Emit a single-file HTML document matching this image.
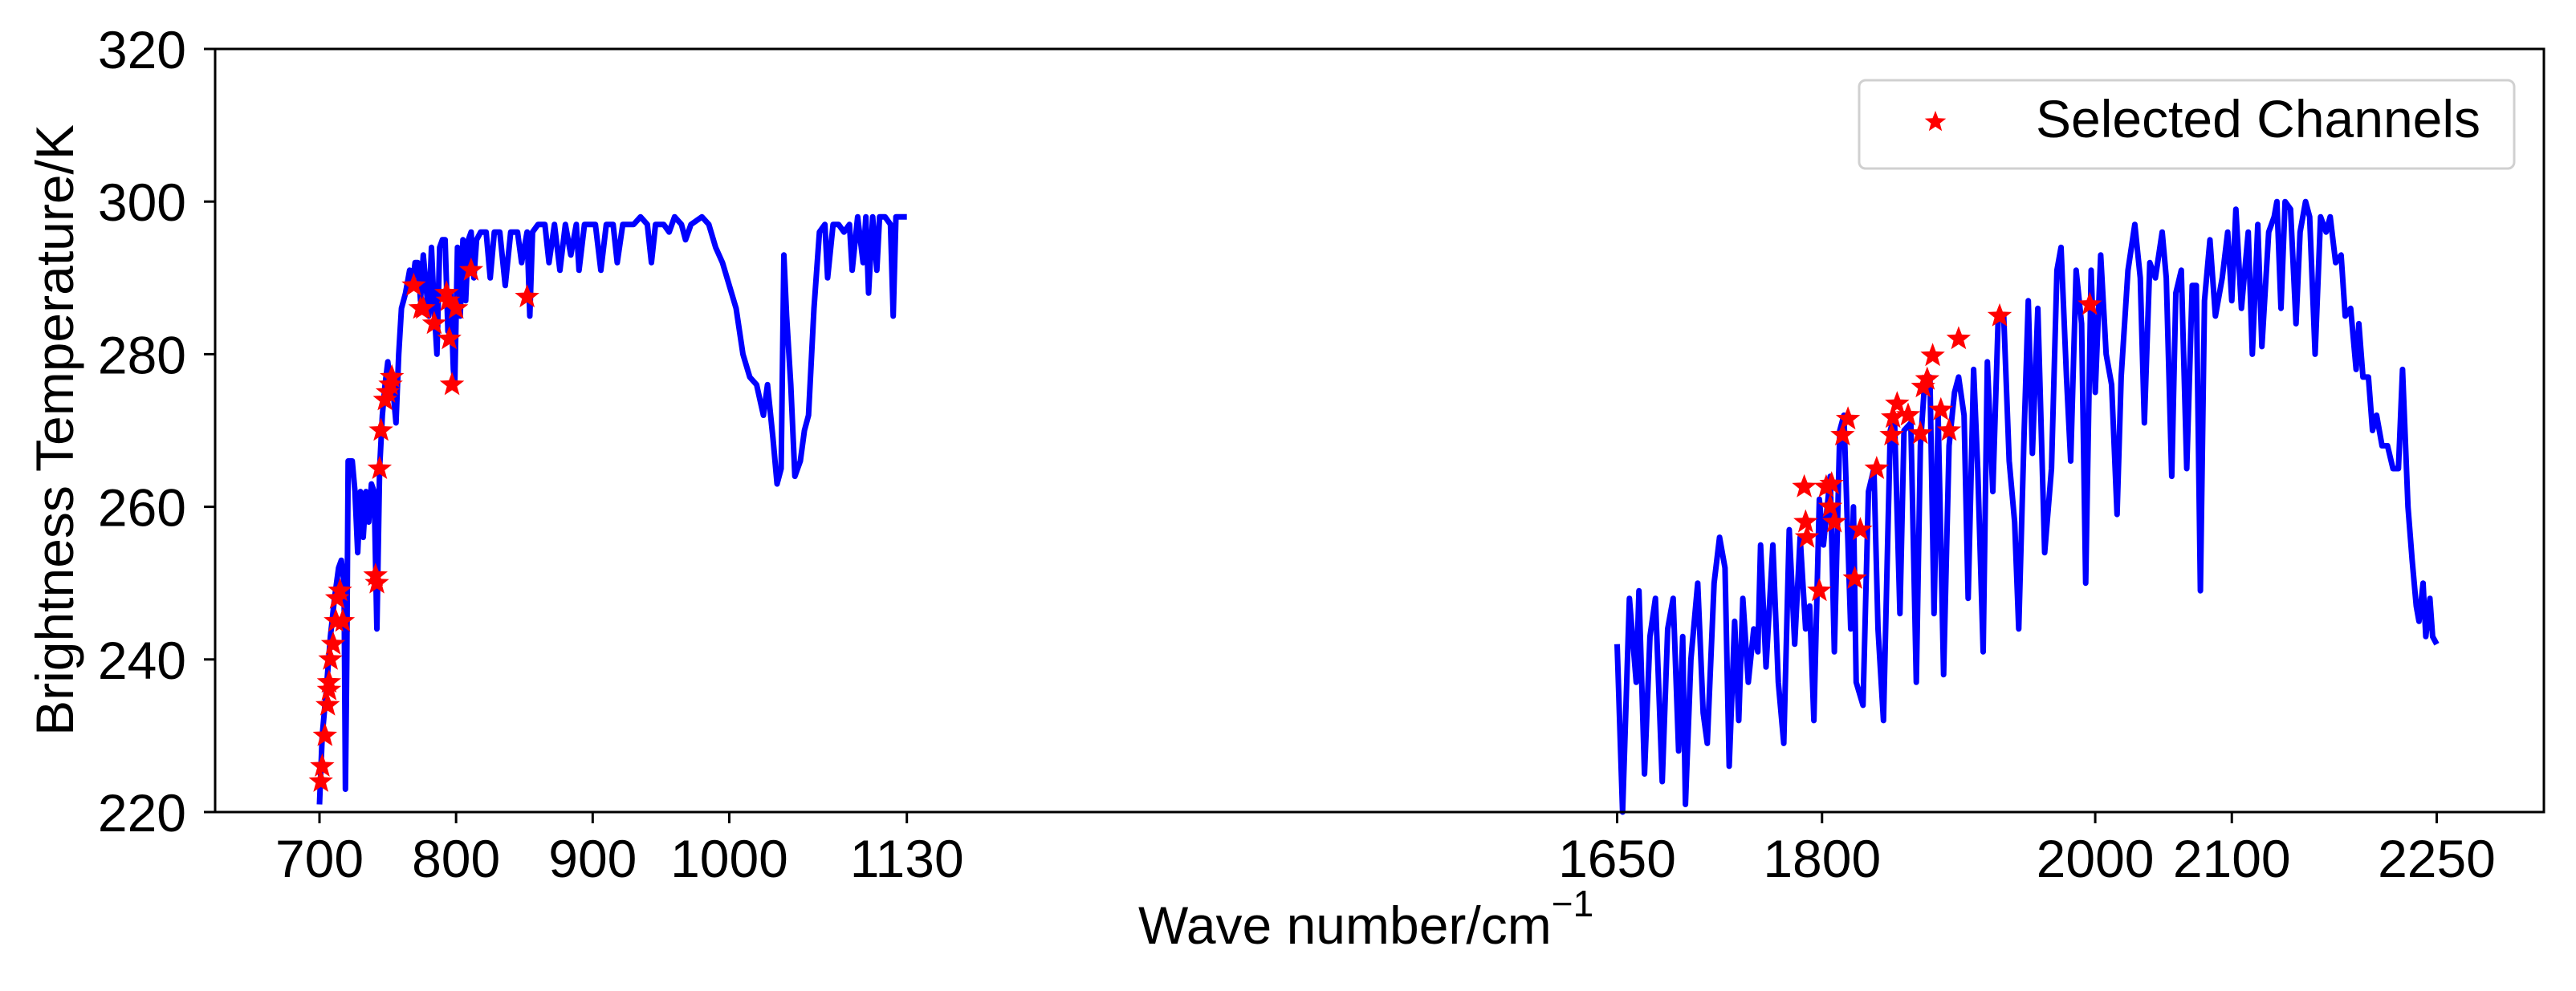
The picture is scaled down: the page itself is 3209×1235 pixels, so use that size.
<!DOCTYPE html>
<html><head><meta charset="utf-8"><style>
html,body{margin:0;padding:0;background:#fff;}
svg text{font-family:"Liberation Sans",Arial,sans-serif;fill:#000;}
</style></head><body>
<svg id="chart" width="3209" height="1230" viewBox="0 0 3209 1230" xmlns="http://www.w3.org/2000/svg">
<rect width="3209" height="1230" fill="#fff"/>
<g id="plot"></g>
<g id="axes"></g>
<g id="legend">
  <rect x="2316" y="100" width="816" height="110" rx="8" fill="#fff" stroke="#d0d0d0" stroke-width="3"/>
  <path id="legStar" fill="#ff0000"/>
  <text x="2536" y="171" font-size="66">Selected Channels</text>
</g>
</svg>
<script>
const band1W=[700,702,705,708,711,714,716,718,719,720,721,724,726,728,730,732,734,736,738,740,742,744,746,748,750,752,754,756,758,760,763,766,768,770,772,774,776,778,780,782,784,786,788,790,792,794,796,798,799,801,803,805,807,809,811,813,815,818,822,825,828,832,836,840,845,848,852,854,856,860,865,868,872,876,880,884,888,890,894,898,902,906,910,915,918,922,930,935,940,943,946,952,956,960,965,968,972,980,985,990,995,1000,1005,1010,1015,1020,1025,1028,1032,1035,1038,1040,1042,1045,1048,1052,1055,1058,1062,1066,1070,1072,1076,1080,1084,1088,1090,1094,1098,1100,1102,1105,1108,1110,1114,1118,1120,1122,1126,1130];
const band1T=[221,230,236,243,248,252,253,250,223,240,266,266,262,254,262,256,262,258,263,262,244,265,272,276,279,276,275,271,280,286,288,291,289,292,292,287,293,289,285,294,286,280,294,295,295,283,288,278,276,294,285,295,287,295,296,290,295,296,296,290,296,296,289,296,296,292,296,285,296,297,297,292,297,291,297,293,297,291,297,297,297,291,297,297,292,297,297,298,297,292,297,297,296,298,297,295,297,298,297,294,292,289,286,280,277,276,272,276,269,263,265,293,285,276,264,266,270,272,286,296,297,290,297,297,296,297,291,298,292,298,288,298,291,298,298,297,285,298,298,298];
const band2W=[1650,1654,1659,1664,1666,1670,1674,1678,1683,1687,1691,1695,1698,1700,1704,1709,1713,1716,1721,1725,1729,1732,1736,1739,1742,1746,1750,1753,1755,1759,1764,1768,1772,1776,1780,1784,1788,1791,1794,1798,1801,1806,1809,1813,1816,1821,1823,1825,1830,1834,1838,1841,1845,1850,1853,1857,1860,1865,1869,1872,1875,1879,1882,1885,1889,1893,1897,1900,1904,1907,1911,1914,1918,1921,1925,1929,1933,1937,1941,1944,1948,1951,1954,1958,1963,1968,1972,1975,1979,1982,1986,1990,1993,1997,2000,2004,2008,2012,2016,2019,2024,2029,2033,2036,2040,2044,2049,2052,2056,2059,2063,2067,2071,2074,2077,2080,2084,2088,2093,2097,2100,2103,2107,2112,2115,2119,2122,2127,2131,2133,2136,2139,2143,2147,2150,2154,2157,2161,2165,2169,2172,2176,2180,2183,2187,2191,2193,2196,2200,2203,2206,2210,2214,2218,2222,2225,2229,2232,2235,2237,2240,2242,2245,2247,2250];
const band2T=[242,220,248,237,249,225,243,248,224,244,248,228,243,221,240,250,233,229,250,256,252,226,245,232,248,237,244,241,255,239,255,237,229,257,242,256,244,247,232,261,255,264,241,270,272,244,260,237,234,262,265,244,232,270,272,246,270,271,237,268,276,277,246,272,238,268,275,277,272,248,278,265,241,279,262,285,285,266,258,244,270,287,267,286,254,265,291,294,277,266,291,284,250,291,275,293,280,276,259,277,291,297,290,271,292,290,296,290,264,288,291,265,289,289,249,287,295,285,290,296,287,299,286,296,280,297,281,296,298,300,286,300,299,284,296,300,298,280,298,296,298,292,293,285,286,278,284,277,277,270,272,268,268,265,265,278,260,253,247,245,250,243,248,243,242];
const starW=[701,702,704,706,707,707,708,710,712,713,715,717,741,742,744,745,748,750,752,753,769,774,776,784,793,794,795,797,800,811,852,1787,1788,1789,1798,1803,1807,1806,1809,1815,1819,1824,1828,1840,1851,1852,1855,1863,1872,1874,1877,1881,1887,1893,1900,1930,1996];
const starT=[224,226,230,234,236,237,240,242,245,248,249,245,251,250,265,270,274,275,276,277,289,286,286,284,288,287,282,276,286,291,287.5,262.6,258,256,249,262.6,263,260,258,269.4,271.5,250.6,257,265,269.4,271.7,273.5,272,269.6,275.7,276.7,279.8,272.7,270,282,285,286.5];
const xTicks=[700,800,900,1000,1130,1650,1800,2000,2100,2250];
const yTicks=[220,240,260,280,300,320];

const L=268,R=3169,T=61,B=1012;
function xs(w){return 398+(w-700)*1.7016;}
function ys(v){return B-(v-220)*(B-T)/100;}
const NS="http://www.w3.org/2000/svg";
function mk(tag,parent){const e=document.createElementNS(NS,tag);parent.appendChild(e);return e;}
function starPath(cx,cy,r){let d="";for(let i=0;i<10;i++){const a=-Math.PI/2+i*Math.PI/5;const rr=i%2?r*0.42:r;d+=(i?"L":"M")+(cx+rr*Math.cos(a)).toFixed(1)+","+(cy+rr*Math.sin(a)).toFixed(1);}return d+"Z";}
const plot=document.getElementById('plot');
function line(W,Tv,name){
  const p=mk('path',plot);
  
  
  p.setAttribute('d',W.map((w,i)=>(i?'L':'M')+xs(w).toFixed(1)+','+ys(Tv[i]).toFixed(1)).join(''));
  p.setAttribute('fill','none');p.setAttribute('stroke','#0000ff');p.setAttribute('stroke-width','7');p.setAttribute('stroke-linejoin','round');
}
line(band1W,band1T,'spectrum-line-band1');
line(band2W,band2T,'spectrum-line-band2');
starW.forEach((w,i)=>{
  const s=mk('path',plot);
  
  
  s.setAttribute('d',starPath(xs(w),ys(starT[i]),16));
  s.setAttribute('fill','#ff0000');
});
document.getElementById('legStar').setAttribute('d',starPath(2411,152,14));
const ax=document.getElementById('axes');
const fr=mk('rect',ax);


fr.setAttribute('x',L);fr.setAttribute('y',T);fr.setAttribute('width',R-L);fr.setAttribute('height',B-T);
fr.setAttribute('fill','none');fr.setAttribute('stroke','#000');fr.setAttribute('stroke-width','3');
xTicks.forEach(v=>{
  const x=xs(v);
  const t=mk('line',ax);
  
  
  t.setAttribute('x1',x);t.setAttribute('x2',x);t.setAttribute('y1',B);t.setAttribute('y2',B+14);t.setAttribute('stroke','#000');t.setAttribute('stroke-width','3');
  const lb=mk('text',ax);
  
  
  lb.setAttribute('x',x);lb.setAttribute('y',1093);lb.setAttribute('font-size','66');lb.setAttribute('text-anchor','middle');lb.textContent=v;
});
yTicks.forEach(v=>{
  const y=ys(v);
  const t=mk('line',ax);
  
  
  t.setAttribute('x1',L-14);t.setAttribute('x2',L);t.setAttribute('y1',y);t.setAttribute('y2',y);t.setAttribute('stroke','#000');t.setAttribute('stroke-width','3');
  const lb=mk('text',ax);
  
  
  lb.setAttribute('x',232);lb.setAttribute('y',y+24);lb.setAttribute('font-size','66');lb.setAttribute('text-anchor','end');lb.textContent=v;
});
const xl=mk('text',ax);


xl.setAttribute('x',1418);xl.setAttribute('y',1176);xl.setAttribute('font-size','66');
xl.innerHTML='Wave number/cm<tspan font-size="46" dy="-34">−1</tspan>';
const yl=mk('text',ax);


yl.setAttribute('transform','translate(91,536) rotate(-90)');yl.setAttribute('font-size','66');yl.setAttribute('text-anchor','middle');
yl.textContent='Brightness Temperature/K';
</script>
</body></html>
